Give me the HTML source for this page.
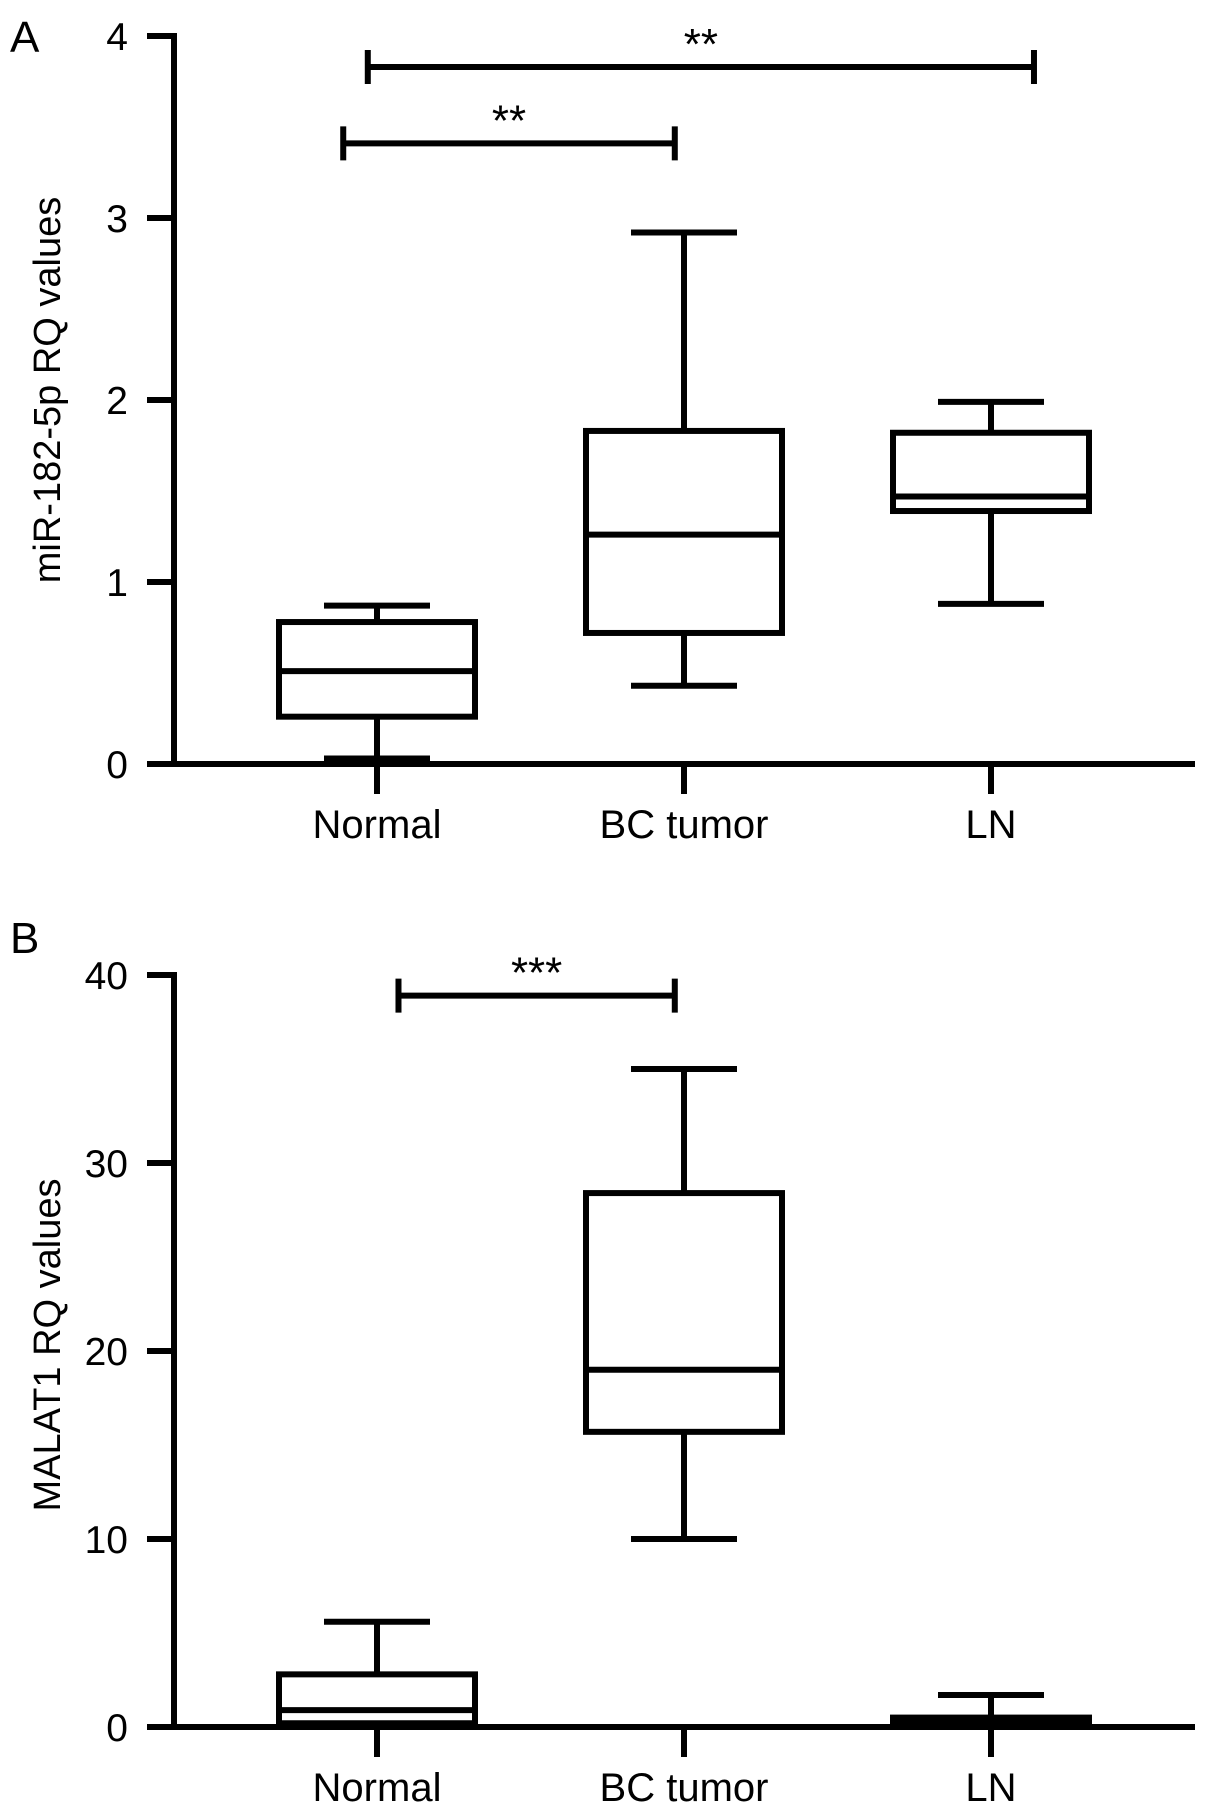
<!DOCTYPE html>
<html><head><meta charset="utf-8"><style>
html,body{margin:0;padding:0;background:#fff;}
svg{display:block;font-family:"Liberation Sans",Arial,sans-serif;}
</style></head>
<body>
<svg id="fig" width="1205" height="1812" viewBox="0 0 1205 1812" xmlns="http://www.w3.org/2000/svg"></svg>
<script>
const categories = ["Normal", "BC tumor", "LN"];
// Panel A: [min, q1, median, q3, max]
const statsA = [[0.03,0.26,0.51,0.78,0.87],[0.43,0.72,1.26,1.83,2.92],[0.88,1.39,1.47,1.82,1.99]];
const ticksA = [0,1,2,3,4];
const sigA = [{from:-0.11,to:0.97,y:3.41,label:"**"},{from:-0.03,to:2.14,y:3.83,label:"**"}];
// Panel B
const statsB = [[0,0.2,0.9,2.8,5.6],[10,15.7,19,28.4,35],[0,0.1,0.3,0.5,1.7]];
const ticksB = [0,10,20,30,40];
const sigB = [{from:0.07,to:0.97,y:38.9,label:"***"}];

const NS="http://www.w3.org/2000/svg";
const svg=document.getElementById('fig');
function mk(tag,attrs,parent){const e=document.createElementNS(NS,tag);for(const k in attrs)e.setAttribute(k,attrs[k]);(parent||svg).appendChild(e);return e;}

function panel(opt){
  const g=mk('g',{});
  
  
  const axX=174, x0=377, step=307;
  const ymax=opt.ticks[opt.ticks.length-1];
  const yS=v=>opt.y0-(v/ymax)*(opt.y0-opt.yTop);
  const xS=i=>x0+i*step;
  const sw=6;
  const L=mk('text',{x:10,y:opt.letterY,'font-size':44},g);L.textContent=opt.letter;
  
  
  const ya=mk('line',{x1:axX,y1:opt.yTop-3,x2:axX,y2:opt.y0+3,stroke:'#000','stroke-width':sw},g);
  
  
  opt.ticks.forEach(t=>{
    const y=yS(t);
    mk('line',{x1:147,y1:y,x2:axX,y2:y,stroke:'#000','stroke-width':sw},g);
    const tx=mk('text',{x:128,y:y+14,'font-size':39,'text-anchor':'end'},g);tx.textContent=t;
    
    
  });
  const xa=mk('line',{x1:147,y1:opt.y0,x2:1195,y2:opt.y0,stroke:'#000','stroke-width':sw},g);
  
  
  categories.forEach((c,i)=>{
    mk('line',{x1:xS(i),y1:opt.y0,x2:xS(i),y2:opt.y0+30,stroke:'#000','stroke-width':sw},g);
    const tx=mk('text',{x:xS(i),y:opt.y0+74,'font-size':40,'text-anchor':'middle'},g);tx.textContent=c;
    
    
  });
  const yl=mk('text',{x:0,y:0,'font-size':38,'text-anchor':'middle',transform:`translate(60,${opt.labelY}) rotate(-90)`},g);
  yl.textContent=opt.ylabel;
  
  
  opt.stats.forEach((s,i)=>{
    const bg=mk('g',{fill:'none',stroke:'#000','stroke-width':sw},g);
    
    
    const cx=xS(i),hw=98,cw=53;
    mk('line',{x1:cx,y1:yS(s[0]),x2:cx,y2:yS(s[1])},bg);
    mk('line',{x1:cx,y1:yS(s[3]),x2:cx,y2:yS(s[4])},bg);
    mk('line',{x1:cx-cw,y1:yS(s[0]),x2:cx+cw,y2:yS(s[0])},bg);
    mk('line',{x1:cx-cw,y1:yS(s[4]),x2:cx+cw,y2:yS(s[4])},bg);
    mk('rect',{x:cx-hw,y:yS(s[3]),width:2*hw,height:Math.max(1,yS(s[1])-yS(s[3]))},bg);
    mk('line',{x1:cx-hw,y1:yS(s[2]),x2:cx+hw,y2:yS(s[2])},bg);
  });
  opt.sig.forEach(b=>{
    const sg=mk('g',{stroke:'#000','stroke-width':sw},g);
    
    
    const xa1=xS(b.from),xa2=xS(b.to),y=yS(b.y);
    mk('line',{x1:xa1,y1:y,x2:xa2,y2:y},sg);
    mk('line',{x1:xa1,y1:y-17,x2:xa1,y2:y+17},sg);
    mk('line',{x1:xa2,y1:y-17,x2:xa2,y2:y+17},sg);
    const st=mk('text',{x:(xa1+xa2)/2,y:y-8,'font-size':44,'text-anchor':'middle'},g);
    st.textContent=b.label;
    
    
  });
}
panel({name:'panel-a',letter:'A',letterY:52,y0:764,yTop:36,ticks:ticksA,stats:statsA,sig:sigA,ylabel:'miR-182-5p RQ values',labelY:390});
panel({name:'panel-b',letter:'B',letterY:953,y0:1727,yTop:975,ticks:ticksB,stats:statsB,sig:sigB,ylabel:'MALAT1 RQ values',labelY:1345});
</script>
</body></html>
